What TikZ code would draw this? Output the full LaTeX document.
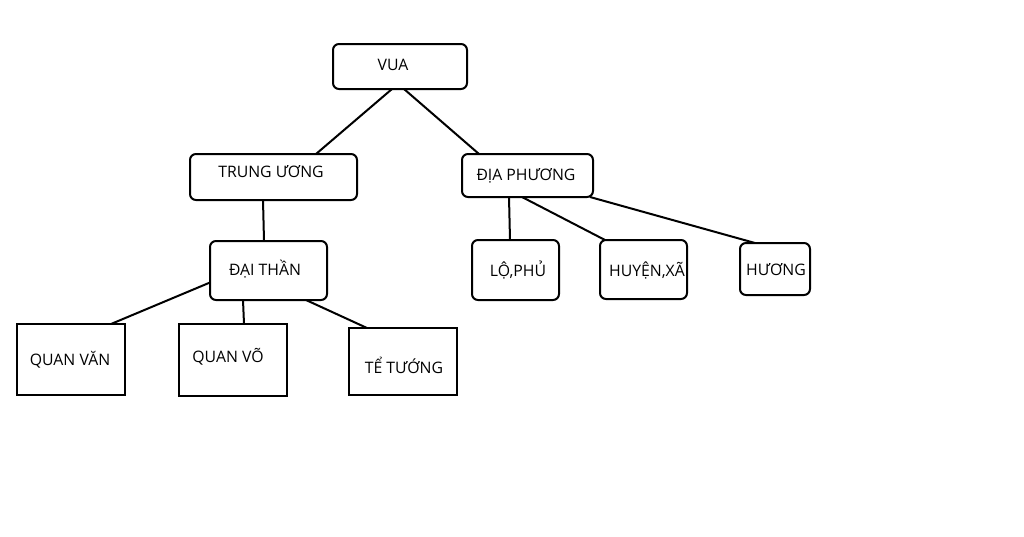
\documentclass[tikz,border=0pt]{standalone}
\usepackage{fontspec}
\setmainfont{Open Sans}
\begin{document}
\begin{tikzpicture}[x=1pt,y=-1pt,
  rbox/.style={draw,line width=2pt,rounded corners=6pt,inner sep=0pt,outer sep=0pt},
  sbox/.style={draw,line width=2pt,inner sep=0pt,outer sep=0pt},
  lbl/.style={inner sep=0pt,font=\fontsize{15.8}{18}\selectfont},
  conn/.style={line width=2pt}]
\useasboundingbox[fill=white] (0,0) rectangle (1024,536);
% boxes
\node[rbox,minimum width=134pt,minimum height=45pt] (vua) at (400,66.5) {};
\node[rbox,minimum width=167pt,minimum height=46pt] (tw) at (273.5,177) {};
\node[rbox,minimum width=131pt,minimum height=43pt] (dp) at (527.5,175.5) {};
\node[rbox,minimum width=117pt,minimum height=59pt] (dt) at (268.5,270.5) {};
\node[sbox,minimum width=108pt,minimum height=71pt] (qv) at (71,359.5) {};
\node[sbox,minimum width=108pt,minimum height=72pt] (qvo) at (233,360) {};
\node[sbox,minimum width=108pt,minimum height=67pt] (tt) at (403,361.5) {};
\node[rbox,minimum width=87pt,minimum height=60pt] (lp) at (515.5,270) {};
\node[rbox,minimum width=87pt,minimum height=59pt] (hx) at (643.5,269.5) {};
\node[rbox,minimum width=70pt,minimum height=52pt] (hu) at (775,269) {};
% labels
\node[lbl] (vuat) at (393,65) {VUA};
\node[lbl] (twt) at (271,172) {TRUNG ƯƠNG};
\node[lbl] (dpt) at (526,176) {ĐỊA PHƯƠNG};
\node[lbl] (dtt) at (265,269) {ĐẠI THẦN};
\node[lbl] (qvt) at (70,360) {QUAN VĂN};
\node[lbl] (qvot) at (228,357) {QUAN VÕ};
\node[lbl] (ttt) at (404,365) {TỂ TƯỚNG};
\node[lbl] (lpt) at (518,270) {LỘ,PHỦ};
\node[lbl] (hxt) at (647,270) {HUYỆN,XÃ};
\node[lbl] (hut) at (776,270) {HƯƠNG};
% connectors
\draw[conn] ([xshift=59pt]vua.south west) -- ([xshift=126pt]tw.north west);
\draw[conn] ([xshift=71pt]vua.south west) -- ([xshift=17pt]dp.north west);
\draw[conn] ([xshift=73pt]tw.south west) -- ([xshift=54pt]dt.north west);
\draw[conn] ([yshift=-12pt]dt.west) -- ([xshift=94pt]qv.north west);
\draw[conn] ([xshift=33pt]dt.south west) -- ([xshift=65pt]qvo.north west);
\draw[conn] ([xshift=96pt]dt.south west) -- ([xshift=18pt]tt.north west);
\draw[conn] ([xshift=47pt]dp.south west) -- ([xshift=38pt]lp.north west);
\draw[conn] ([xshift=60pt]dp.south west) -- ([xshift=5pt]hx.north west);
\draw[conn] ([xshift=128pt]dp.south west) -- ([xshift=15pt]hu.north west);
\end{tikzpicture}
\end{document}
